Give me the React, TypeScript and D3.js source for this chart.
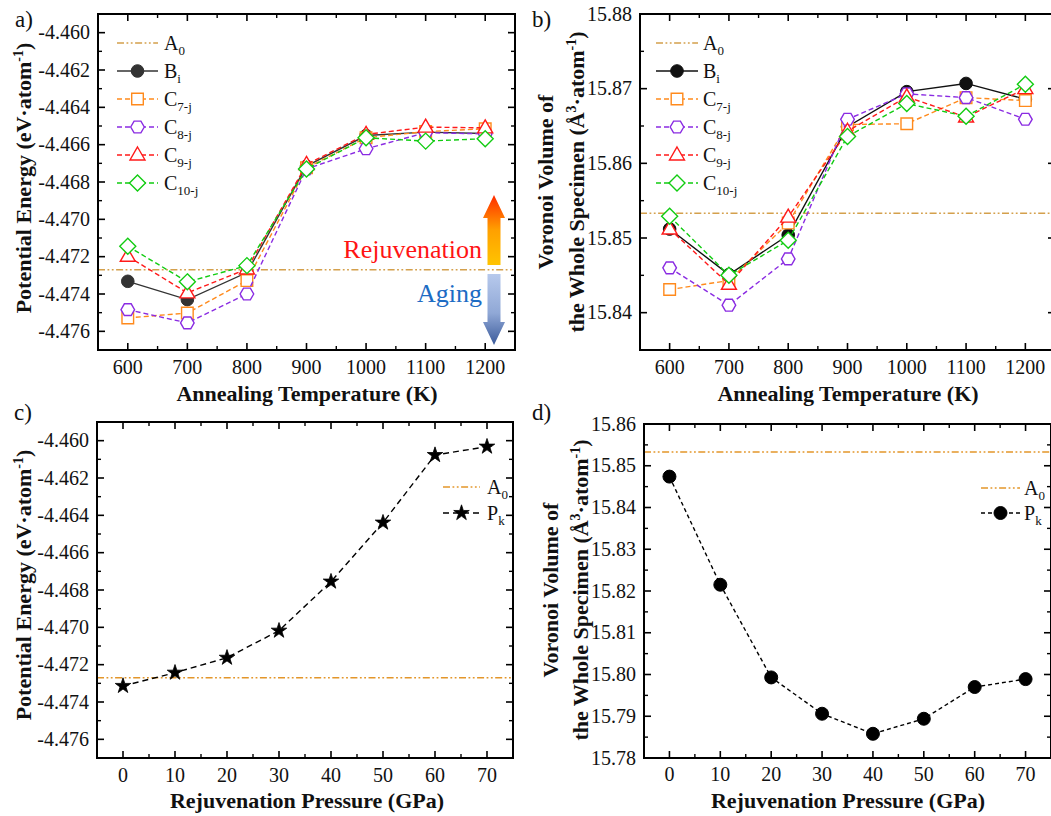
import React from 'react';
import * as d3 from 'd3';

// ---------- DATA ----------
const tempsK = [600, 700, 800, 900, 1000, 1100, 1200];
const energyBi = [-4.47332, -4.4743, -4.47285, -4.46715, -4.46551, -4.46533, -4.4654];
const energyC7 = [-4.47528, -4.47502, -4.47328, -4.46724, -4.46563, -4.4653, -4.46515];
const energyC8 = [-4.47484, -4.47555, -4.474, -4.4673, -4.46622, -4.46536, -4.46542];
const energyC9 = [-4.47198, -4.47394, -4.47266, -4.46706, -4.46545, -4.46506, -4.4651];
const energyC10 = [-4.47144, -4.47335, -4.47248, -4.4673, -4.46563, -4.46581, -4.46568];

const volumeBi = [15.8512, 15.8451, 15.8504, 15.8649, 15.8696, 15.8707, 15.8686];
const volumeC7 = [15.8431, 15.8443, 15.852, 15.8652, 15.8653, 15.8688, 15.8684];
const volumeC8 = [15.846, 15.841, 15.8472, 15.8659, 15.8693, 15.8688, 15.8659];
const volumeC9 = [15.8512, 15.8438, 15.8528, 15.8643, 15.8689, 15.8662, 15.87];
const volumeC10 = [15.8529, 15.845, 15.8497, 15.8636, 15.868, 15.8663, 15.8706];

const pressuresGPa = [0, 10, 20, 30, 40, 50, 60, 70];
const energyPk = [-4.47314, -4.47243, -4.47163, -4.47018, -4.46755, -4.46439, -4.46077, -4.46032];
const volumePk = [15.8474, 15.8215, 15.7993, 15.7906, 15.7858, 15.7894, 15.797, 15.7989];

const energyA0 = -4.4727;
const volumeA0 = 15.8533;

const tempTicks = [600, 700, 800, 900, 1000, 1100, 1200];
const pressureTicks = [0, 10, 20, 30, 40, 50, 60, 70];
const energyTicks = [-4.476, -4.474, -4.472, -4.47, -4.468, -4.466, -4.464, -4.462, -4.46];
const volumeTicksB = [15.84, 15.85, 15.86, 15.87, 15.88];
const volumeTicksD = [15.78, 15.79, 15.8, 15.81, 15.82, 15.83, 15.84, 15.85, 15.86];

// ---------- STYLE ----------
const FONT = "'Liberation Serif','Times New Roman',Times,serif";
const A0_AB = '#d4a04c';
const A0_CD = '#e3962a';
const COLORS = { Bi: '#333333', C7: '#ff8a1c', C8: '#8a2be2', C9: '#ff1a1a', C10: '#11cc11', Pk: '#000000' };

type Shape = 'dot' | 'square' | 'hexagon' | 'triangle' | 'diamond' | 'star' | 'bigdot';

function markerPath(shape: Shape): string {
  if (shape === 'hexagon') {
    const r = 6.8;
    const pts = d3.range(6).map((i) => {
      const a = (Math.PI / 3) * i;
      return [r * Math.cos(a), r * Math.sin(a)];
    });
    return 'M' + pts.map((p) => p.join(',')).join('L') + 'Z';
  }
  if (shape === 'square') return 'M-5.8,-5.8L5.8,-5.8L5.8,5.8L-5.8,5.8Z';
  if (shape === 'triangle') return 'M0,-8L7.5,5L-7.5,5Z';
  if (shape === 'diamond') return 'M0,-8L8,0L0,8L-8,0Z';
  if (shape === 'star') return d3.symbol(d3.symbolStar, 75)() as string;
  return '';
}

function Marker({ shape, x, y, color }: { shape: Shape; x: number; y: number; color: string }) {
  if (shape === 'dot' || shape === 'bigdot') {
    return <circle cx={x} cy={y} r={shape === 'bigdot' ? 6.5 : 6.3} fill={color} stroke={color} strokeWidth={1} />;
  }
  if (shape === 'star') {
    return <path d={markerPath(shape)} transform={`translate(${x},${y})`} fill={color} stroke={color} strokeWidth={0.8} />;
  }
  return <path d={markerPath(shape)} transform={`translate(${x},${y})`} fill="#ffffff" stroke={color} strokeWidth={1.4} />;
}

interface Series {
  name: string;
  sub: string;
  xs: number[];
  ys: number[];
  color: string;
  shape: Shape;
  dash: string | null;
}

interface PanelCfg {
  id: string;
  letter: string;
  letterX: number;
  letterY: number;
  l: number;
  t: number;
  r: number;
  b: number;
  xDomain: [number, number];
  yDomain: [number, number];
  xTicks: number[];
  xMinorStep: number;
  yTicks: number[];
  yMinorStep: number;
  yDigits: number;
  xLabel: string;
  xLabelX: number;
  xLabelY: number;
  xTickY: number;
  yLabelLines: React.ReactNode[];
  yLabelX: number[];
  yLabelCY: number;
  series: Series[];
  a0: number;
  a0Color: string;
  legend: { x1: number; x2: number; tx: number; rows: number[] };
}

const A0_DASH = '7,2.5,1.8,2.5,1.8,2.5';

function Panel({ cfg }: { cfg: PanelCfg }) {
  const x = d3.scaleLinear().domain(cfg.xDomain).range([cfg.l, cfg.r]);
  const y = d3.scaleLinear().domain(cfg.yDomain).range([cfg.b, cfg.t]);
  const eps = 1e-9;
  const xMinor = d3
    .range(cfg.xDomain[0], cfg.xDomain[1] + eps, cfg.xMinorStep)
    .filter((v) => !cfg.xTicks.some((t) => Math.abs(t - v) < eps) && v > cfg.xDomain[0] + eps && v < cfg.xDomain[1] - eps);
  const yMinor = d3
    .range(cfg.yDomain[0], cfg.yDomain[1] + cfg.yMinorStep / 10, cfg.yMinorStep)
    .filter(
      (v) =>
        !cfg.yTicks.some((t) => Math.abs(t - v) < cfg.yMinorStep / 10) &&
        v > cfg.yDomain[0] + cfg.yMinorStep / 10 &&
        v < cfg.yDomain[1] - cfg.yMinorStep / 10
    );
  const line = d3
    .line<[number, number]>()
    .x((d) => x(d[0]))
    .y((d) => y(d[1]));
  const MAJ = 7;
  const MIN = 4;
  const legendItems: { name: string; sub: string; color: string; shape: Shape | null; dash: string | null; a0?: boolean }[] = [
    { name: 'A', sub: '0', color: cfg.a0Color, shape: null, dash: A0_DASH, a0: true },
    ...cfg.series.map((s) => ({ name: s.name, sub: s.sub, color: s.color, shape: s.shape, dash: s.dash })),
  ];
  return (
    <g>
      <defs>
        <clipPath id={`clip-${cfg.id}`}>
          <rect x={cfg.l} y={cfg.t} width={cfg.r - cfg.l} height={cfg.b - cfg.t} />
        </clipPath>
      </defs>
      <line
        x1={cfg.l}
        x2={cfg.r}
        y1={y(cfg.a0)}
        y2={y(cfg.a0)}
        stroke={cfg.a0Color}
        strokeWidth={1.5}
        strokeDasharray={A0_DASH}
      />
      <g clipPath={`url(#clip-${cfg.id})`}>
        {cfg.series.map((s) => (
          <g key={s.name + s.sub}>
            <path
              d={line(s.xs.map((v, i) => [v, s.ys[i]] as [number, number])) as string}
              fill="none"
              stroke={s.color}
              strokeWidth={1.4}
              strokeDasharray={s.dash ?? undefined}
            />
            {s.xs.map((v, i) => (
              <Marker key={i} shape={s.shape} x={x(v)} y={y(s.ys[i])} color={s.color} />
            ))}
          </g>
        ))}
      </g>
      <rect x={cfg.l} y={cfg.t} width={cfg.r - cfg.l} height={cfg.b - cfg.t} fill="none" stroke="#000" strokeWidth={2} />
      {cfg.xTicks.map((v) => (
        <g key={'xt' + v}>
          <line x1={x(v)} x2={x(v)} y1={cfg.b} y2={cfg.b - MAJ} stroke="#000" strokeWidth={1.6} />
          <line x1={x(v)} x2={x(v)} y1={cfg.t} y2={cfg.t + MAJ} stroke="#000" strokeWidth={1.6} />
          <text x={x(v)} y={cfg.xTickY} textAnchor="middle" fontFamily={FONT} fontSize={20} fill="#111">
            {v}
          </text>
        </g>
      ))}
      {xMinor.map((v) => (
        <g key={'xm' + v}>
          <line x1={x(v)} x2={x(v)} y1={cfg.b} y2={cfg.b - MIN} stroke="#000" strokeWidth={1.4} />
          <line x1={x(v)} x2={x(v)} y1={cfg.t} y2={cfg.t + MIN} stroke="#000" strokeWidth={1.4} />
        </g>
      ))}
      {cfg.yTicks.map((v) => (
        <g key={'yt' + v}>
          <line x1={cfg.l} x2={cfg.l + MAJ} y1={y(v)} y2={y(v)} stroke="#000" strokeWidth={1.6} />
          <line x1={cfg.r} x2={cfg.r - MAJ} y1={y(v)} y2={y(v)} stroke="#000" strokeWidth={1.6} />
          <text x={cfg.l - 8} y={y(v) + 6.5} textAnchor="end" fontFamily={FONT} fontSize={20} fill="#111">
            {v.toFixed(cfg.yDigits)}
          </text>
        </g>
      ))}
      {yMinor.map((v) => (
        <g key={'ym' + v}>
          <line x1={cfg.l} x2={cfg.l + MIN} y1={y(v)} y2={y(v)} stroke="#000" strokeWidth={1.4} />
          <line x1={cfg.r} x2={cfg.r - MIN} y1={y(v)} y2={y(v)} stroke="#000" strokeWidth={1.4} />
        </g>
      ))}
      <text x={cfg.xLabelX} y={cfg.xLabelY} textAnchor="middle" fontFamily={FONT} fontSize={22} fontWeight="bold" fill="#111">
        {cfg.xLabel}
      </text>
      {cfg.yLabelLines.map((ln, i) => (
        <text
          key={i}
          transform={`translate(${cfg.yLabelX[i]},${cfg.yLabelCY}) rotate(-90)`}
          textAnchor="middle"
          fontFamily={FONT}
          fontSize={22}
          fontWeight="bold"
          fill="#111"
        >
          {ln}
        </text>
      ))}
      <text x={cfg.letterX} y={cfg.letterY} fontFamily={FONT} fontSize={23} fill="#111">
        {cfg.letter}
      </text>
      {legendItems.map((it, i) => {
        const ly = cfg.legend.rows[i];
        const mx = (cfg.legend.x1 + cfg.legend.x2) / 2;
        return (
          <g key={'lg' + i}>
            <line
              x1={cfg.legend.x1}
              x2={cfg.legend.x2}
              y1={ly}
              y2={ly}
              stroke={it.color}
              strokeWidth={it.a0 ? 1.5 : 1.4}
              strokeDasharray={it.dash ?? undefined}
            />
            {it.shape && <Marker shape={it.shape} x={mx} y={ly} color={it.color} />}
            <text x={cfg.legend.tx} y={ly + 6.5} fontFamily={FONT} fontSize={20} fill="#111">
              {it.name}
              <tspan fontSize={13} dy={5}>
                {it.sub}
              </tspan>
            </text>
          </g>
        );
      })}
    </g>
  );
}

const energyLabel = (
  <>
    Potential Energy (eV·atom
    <tspan fontSize={14} dy={-8}>
      -1
    </tspan>
    <tspan dy={8}>)</tspan>
  </>
);
const volumeLine1 = <>Voronoi Volume of</>;
const volumeLine2 = (
  <>
    the Whole Specimen (Å
    <tspan fontSize={14} dy={-8}>
      3
    </tspan>
    <tspan dy={8}>·atom</tspan>
    <tspan fontSize={14} dy={-8}>
      -1
    </tspan>
    <tspan dy={8}>)</tspan>
  </>
);

const legendRowsTop = [43, 71, 99, 127, 155, 183];

const panelA: PanelCfg = {
  id: 'a',
  letter: 'a)',
  letterX: 15,
  letterY: 27,
  l: 98,
  t: 14,
  r: 515,
  b: 350,
  xDomain: [550, 1250],
  yDomain: [-4.477, -4.459],
  xTicks: tempTicks,
  xMinorStep: 50,
  yTicks: energyTicks,
  yMinorStep: 0.001,
  yDigits: 3,
  xLabel: 'Annealing Temperature (K)',
  xLabelX: 307,
  xLabelY: 401,
  xTickY: 374,
  yLabelLines: [energyLabel],
  yLabelX: [31],
  yLabelCY: 178,
  series: [
    { name: 'B', sub: 'i', xs: tempsK, ys: energyBi, color: COLORS.Bi, shape: 'dot', dash: null },
    { name: 'C', sub: '7-j', xs: tempsK, ys: energyC7, color: COLORS.C7, shape: 'square', dash: '5,3' },
    { name: 'C', sub: '8-j', xs: tempsK, ys: energyC8, color: COLORS.C8, shape: 'hexagon', dash: '5,3' },
    { name: 'C', sub: '9-j', xs: tempsK, ys: energyC9, color: COLORS.C9, shape: 'triangle', dash: '5,3' },
    { name: 'C', sub: '10-j', xs: tempsK, ys: energyC10, color: COLORS.C10, shape: 'diamond', dash: '5,3' },
  ],
  a0: energyA0,
  a0Color: A0_AB,
  legend: { x1: 117, x2: 158, tx: 164, rows: legendRowsTop },
};

const panelB: PanelCfg = {
  id: 'b',
  letter: 'b)',
  letterX: 532,
  letterY: 27,
  l: 640,
  t: 14,
  r: 1055,
  b: 350,
  xDomain: [550, 1250],
  yDomain: [15.835, 15.88],
  xTicks: tempTicks,
  xMinorStep: 50,
  yTicks: volumeTicksB,
  yMinorStep: 0.005,
  yDigits: 2,
  xLabel: 'Annealing Temperature (K)',
  xLabelX: 848,
  xLabelY: 401,
  xTickY: 374,
  yLabelLines: [volumeLine1, volumeLine2],
  yLabelX: [553, 584],
  yLabelCY: 182,
  series: [
    { name: 'B', sub: 'i', xs: tempsK, ys: volumeBi, color: '#111111', shape: 'dot', dash: null },
    { name: 'C', sub: '7-j', xs: tempsK, ys: volumeC7, color: COLORS.C7, shape: 'square', dash: '5,3' },
    { name: 'C', sub: '8-j', xs: tempsK, ys: volumeC8, color: COLORS.C8, shape: 'hexagon', dash: '5,3' },
    { name: 'C', sub: '9-j', xs: tempsK, ys: volumeC9, color: COLORS.C9, shape: 'triangle', dash: '5,3' },
    { name: 'C', sub: '10-j', xs: tempsK, ys: volumeC10, color: COLORS.C10, shape: 'diamond', dash: '5,3' },
  ],
  a0: volumeA0,
  a0Color: A0_AB,
  legend: { x1: 656, x2: 698, tx: 703, rows: legendRowsTop },
};

const panelC: PanelCfg = {
  id: 'c',
  letter: 'c)',
  letterX: 14,
  letterY: 420,
  l: 97,
  t: 422,
  r: 513,
  b: 758,
  xDomain: [-5, 75],
  yDomain: [-4.477, -4.459],
  xTicks: pressureTicks,
  xMinorStep: 5,
  yTicks: energyTicks,
  yMinorStep: 0.001,
  yDigits: 3,
  xLabel: 'Rejuvenation Pressure (GPa)',
  xLabelX: 307,
  xLabelY: 808,
  xTickY: 782,
  yLabelLines: [energyLabel],
  yLabelX: [31],
  yLabelCY: 585,
  series: [{ name: 'P', sub: 'k', xs: pressuresGPa, ys: energyPk, color: COLORS.Pk, shape: 'star', dash: '6,4' }],
  a0: energyA0,
  a0Color: A0_CD,
  legend: { x1: 443, x2: 480, tx: 487, rows: [487, 513] },
};

const panelD: PanelCfg = {
  id: 'd',
  letter: 'd)',
  letterX: 532,
  letterY: 420,
  l: 644,
  t: 424,
  r: 1051,
  b: 758,
  xDomain: [-5, 75],
  yDomain: [15.78, 15.86],
  xTicks: pressureTicks,
  xMinorStep: 5,
  yTicks: volumeTicksD,
  yMinorStep: 0.005,
  yDigits: 2,
  xLabel: 'Rejuvenation Pressure (GPa)',
  xLabelX: 848,
  xLabelY: 808,
  xTickY: 781,
  yLabelLines: [volumeLine1, volumeLine2],
  yLabelX: [558, 588],
  yLabelCY: 590,
  series: [{ name: 'P', sub: 'k', xs: pressuresGPa, ys: volumePk, color: COLORS.Pk, shape: 'bigdot', dash: '4,3' }],
  a0: volumeA0,
  a0Color: A0_CD,
  legend: { x1: 981, x2: 1020, tx: 1024, rows: [488, 513] },
};

function Arrows() {
  const cx = 494;
  return (
    <g>
      <defs>
        <linearGradient id="upGrad" x1="0" y1="1" x2="0" y2="0">
          <stop offset="0%" stopColor="#ffc400" />
          <stop offset="50%" stopColor="#ffa000" />
          <stop offset="100%" stopColor="#ff2a00" />
        </linearGradient>
        <linearGradient id="downGrad" x1="0" y1="0" x2="0" y2="1">
          <stop offset="0%" stopColor="#b7c9ec" />
          <stop offset="55%" stopColor="#90a8d6" />
          <stop offset="100%" stopColor="#3b5a9a" />
        </linearGradient>
      </defs>
      <path
        d={`M${cx - 6.5},265 L${cx - 6.5},218 L${cx - 11},218 L${cx},195 L${cx + 11},218 L${cx + 6.5},218 L${cx + 6.5},265 Z`}
        fill="url(#upGrad)"
      />
      <path
        d={`M${cx - 6.5},274 L${cx - 6.5},322 L${cx - 11},322 L${cx},345 L${cx + 11},322 L${cx + 6.5},322 L${cx + 6.5},274 Z`}
        fill="url(#downGrad)"
      />
      <text x={482} y={258} textAnchor="end" fontFamily={FONT} fontSize={26} fill="#ff1414">
        Rejuvenation
      </text>
      <text x={482} y={302} textAnchor="end" fontFamily={FONT} fontSize={26} fill="#1d6cc4">
        Aging
      </text>
    </g>
  );
}

export default function App() {
  return (
    <svg
      width={1051}
      height={816}
      viewBox="0 0 1051 816"
      style={{ position: 'absolute', left: 0, top: 0, background: '#ffffff' }}
    >
      <rect x={0} y={0} width={1051} height={816} fill="#ffffff" />
      <Panel cfg={panelA} />
      <Arrows />
      <Panel cfg={panelB} />
      <Panel cfg={panelC} />
      <Panel cfg={panelD} />
    </svg>
  );
}
